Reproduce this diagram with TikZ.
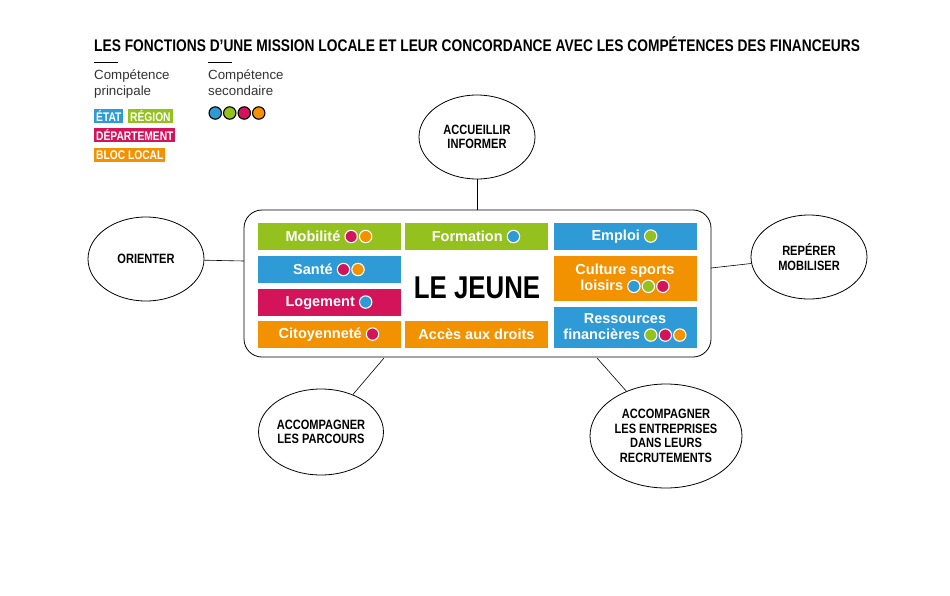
\documentclass[tikz,border=0pt]{standalone}
\usepackage{fontspec}
\setmainfont{Liberation Sans}
\newfontfamily\condfont[FakeStretch=0.82]{Liberation Sans}
\usetikzlibrary{shapes.geometric}
\definecolor{vert}{HTML}{95C11F}
\definecolor{bleu}{HTML}{2E9AD6}
\definecolor{rose}{HTML}{D4145A}
\definecolor{orange}{HTML}{F39200}
\newcommand{\pt}[1]{\tikz[baseline=-0.6ex]\draw[fill=#1,line width=1.1pt] (0,0) circle (6.2pt);\hspace{1pt}}
\tikzset{
  domaine/.style={fill=#1,draw=none,minimum width=143pt,minimum height=27pt,
    text=white,font=\fontsize{14.5}{16.5}\bfseries,align=center,inner sep=0pt},
  fonction/.style={ellipse,draw,line width=0.8pt,minimum width=116pt,minimum height=84pt,
    align=center,font=\condfont\fontsize{13.5}{14.6}\bfseries,inner sep=0pt},
  badge/.style={fill=#1,text=white,font=\condfont\fontsize{12.5}{12}\bfseries,
    inner xsep=2pt,inner ysep=0pt,minimum height=14pt,anchor=north west},
}
\begin{document}
\begin{tikzpicture}[x=1pt,y=-1pt]
	\useasboundingbox (0,0) rectangle (950,595);
	
	% titre et legende
	\node[anchor=west,inner sep=0pt,font=\condfont\fontsize{16.8}{20}\bfseries] (titre) at (94,44) {LES FONCTIONS D’UNE MISSION LOCALE ET LEUR CONCORDANCE AVEC LES COMPÉTENCES DES FINANCEURS};
	\draw (94,62) -- (118,62);
	\draw (208,62) -- (232,62);
	\node[anchor=north west,align=left,inner sep=0pt,font=\fontsize{13.3}{15.5}\selectfont,text=black!80] (princ) at (94,70) {Compétence\\principale};
	\node[anchor=north west,align=left,inner sep=0pt,font=\fontsize{13.3}{15.5}\selectfont,text=black!80] (second) at (208,70) {Compétence\\secondaire};
	\node[badge=bleu] (etat) at (94,109) {ÉTAT};
	\node[badge=vert] (region) at (128,109) {RÉGION};
	\node[badge=rose] (dept) at (94,128) {DÉPARTEMENT};
	\node[badge=orange] (bloc) at (94,148) {BLOC LOCAL};
	\node[inner sep=0pt] (points) at (237,113) {\pt{bleu}\pt{vert}\pt{rose}\pt{orange}};
	
	% le jeune
	\draw[line width=0.8pt,rounded corners=18pt] (244,210) rectangle (711,357);
	\node[domaine=vert] (mobilite) at (329.5,236.5) {Mobilité \pt{rose}\pt{orange}};
	\node[domaine=bleu] (sante) at (329.5,269.5) {Santé \pt{rose}\pt{orange}};
	\node[domaine=rose] (logement) at (329.5,302.5) {Logement \pt{bleu}};
	\node[domaine=orange] (citoyennete) at (329.5,334.5) {Citoyenneté \pt{rose}};
	\node[domaine=vert] (formation) at (476.5,236.5) {Formation \pt{bleu}};
	\node[domaine=orange] (acces) at (476.5,334.5) {Accès aux droits};
	\node[domaine=bleu] (emploi) at (625,236.5) {Emploi \pt{vert}};
	\node[domaine=orange,minimum height=45pt] (culture) at (625,278.5) {Culture sports\\loisirs \pt{bleu}\pt{vert}\pt{rose}};
	\node[domaine=bleu,minimum height=41pt] (ressources) at (625,327.5) {Ressources\\financières \pt{vert}\pt{rose}\pt{orange}};
	\node[font=\condfont\fontsize{31.5}{31.5}\bfseries] (jeune) at (477,288) {LE JEUNE};
	
	% fonctions
	\node[fonction] (accueillir) at (477,137) {ACCUEILLIR\\INFORMER};
	\node[fonction] (orienter) at (146,259) {ORIENTER};
	\node[fonction] (reperer) at (809,257) {REPÉRER\\MOBILISER};
	\node[fonction,minimum height=86pt] (parcours) at (321,432) {ACCOMPAGNER\\LES PARCOURS};
	\node[fonction,minimum width=152pt,minimum height=104pt] (entreprises) at (666,436) {ACCOMPAGNER\\LES ENTREPRISES\\DANS LEURS\\RECRUTEMENTS};
	
	\coordinate (bN) at (477,210);
	\coordinate (bW) at (244,261);
	\coordinate (bE) at (711,268);
	\coordinate (bSW) at (384,358);
	\coordinate (bSE) at (597,358);
	\draw[line width=0.6pt] (accueillir) -- (bN);
	\draw[line width=0.6pt] (orienter) -- (bW);
	\draw[line width=0.6pt] (reperer) -- (bE);
	\draw[line width=0.6pt] (parcours) -- (bSW);
	\draw[line width=0.6pt] (entreprises) -- (bSE);
	
\end{tikzpicture}
\end{document}
